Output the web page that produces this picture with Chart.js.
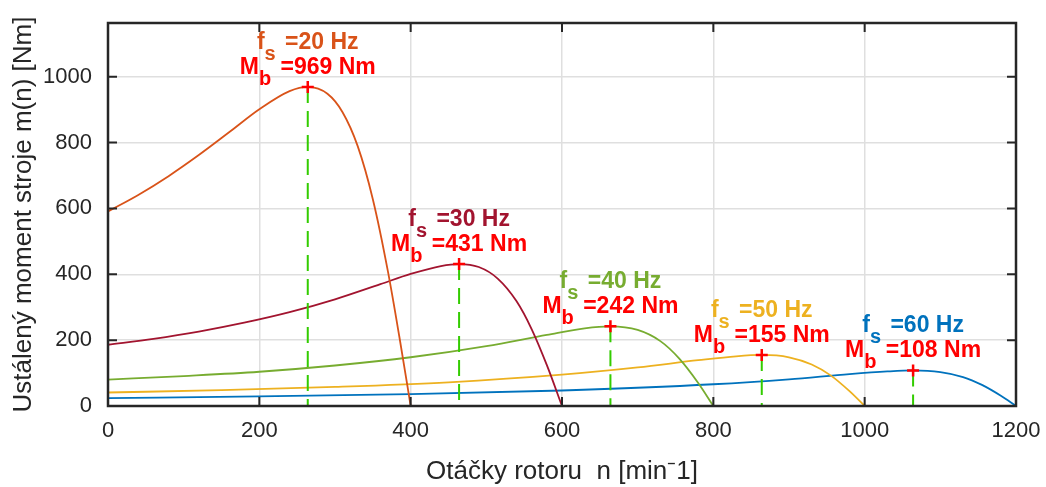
<!DOCTYPE html>
<html lang="cs">
<head>
  <meta charset="UTF-8">
  <title>Ustálený moment stroje</title>
  <script src="https://cdn.jsdelivr.net/npm/chart.js"></script>
  <style>
    body { margin: 0; background: #fff; }
    .chart-container { width: 1046px; height: 487px; }
  </style>
</head>
<body>

  <div class="chart-container">
    <canvas id="torqueChart"></canvas>
  </div>

  <script>
    // otáčky n [min^-1] a moment m(n) [Nm] pro každou frekvenci
    const n20 = [0, 40, 80, 120, 160, 200, 240, 264, 290, 310, 330, 350, 370, 385, 400];
    const m20 = [591, 641, 698, 762, 831, 901, 956, 969, 948, 892, 789, 628, 408, 211, 0];

    const n30 = [0, 60, 120, 180, 240, 300, 360, 400, 440, 464, 490, 515, 540, 560, 580, 600];
    const m30 = [186, 204, 226, 253, 285, 324, 370, 401, 425, 431, 422, 387, 318, 233, 124, 0];

    const n40 = [0, 100, 200, 300, 400, 500, 580, 630, 664, 700, 730, 755, 780, 800];
    const m40 = [80, 91, 104, 123, 148, 182, 216, 236, 242, 231, 197, 144, 70, 0];

    const n50 = [0, 150, 300, 450, 600, 700, 780, 830, 864, 900, 930, 955, 980, 1000];
    const m50 = [41, 48, 58, 72, 95, 117, 139, 151, 155, 148, 126, 93, 45, 0];

    const n60 = [0, 200, 400, 600, 800, 900, 980, 1030, 1064, 1100, 1130, 1155, 1180, 1200];
    const m60 = [24, 29, 36, 47, 66, 81, 97, 105, 108, 103, 88, 64, 31, 0];

    // maxima (moment zvratu)
    const freqs = [20, 30, 40, 50, 60];
    const peakN = [264, 464, 664, 864, 1064];
    const peakM = [969, 431, 242, 155, 108];

    const xTicks = [0, 200, 400, 600, 800, 1000, 1200];
    const yTicks = [0, 200, 400, 600, 800, 1000];

    const curveColors = ['#D95319', '#A2142F', '#77AC30', '#EDB120', '#0072BD'];
    const FONT = "'Liberation Sans', Arial, Helvetica, sans-serif";
    const AXIS = '#262626';

    const curves = [[n20, m20], [n30, m30], [n40, m40], [n50, m50], [n60, m60]];

    const datasets = [];

    datasets.push({
      data: peakN.map((n, i) => ({ x: n, y: peakM[i] })),
      showLine: false,
      pointStyle: 'cross',
      pointRadius: 6,
      borderColor: '#ff0000',
      borderWidth: 2.5,
      order: 0
    });

    peakN.forEach((n, i) => {
      datasets.push({
        data: [{ x: n, y: peakM[i] }, { x: n, y: 0 }],
        borderColor: '#33cc00',
        borderWidth: 2,
        borderDash: [16, 8],
        pointRadius: 0,
        order: 1
      });
    });

    curves.forEach(([ns, ms], i) => {
      datasets.push({
        data: ns.map((n, k) => ({ x: n, y: ms[k] })),
        borderColor: curveColors[i],
        borderWidth: 1.8,
        pointRadius: 0,
        cubicInterpolationMode: 'monotone',
        fill: false,
        order: 2
      });
    });

    // jeden řádek textu s dolním indexem
    function drawRichLine(ctx, parts, cx, baseY, color) {
      const mainFont = 'bold 23px ' + FONT;
      const subFont = 'bold 20px ' + FONT;
      const gap = 3;
      let total = 0;
      parts.forEach(p => {
        ctx.font = p[1] ? subFont : mainFont;
        total += ctx.measureText(p[0]).width + (p[1] ? gap : 0);
      });
      let x = cx - total / 2;
      ctx.fillStyle = color;
      ctx.textAlign = 'left';
      ctx.textBaseline = 'alphabetic';
      parts.forEach(p => {
        ctx.font = p[1] ? subFont : mainFont;
        ctx.fillText(p[0], x, p[1] ? baseY + 11 : baseY);
        x += ctx.measureText(p[0]).width + (p[1] ? gap : 0);
      });
    }

    const matlabAxes = {
      id: 'matlabAxes',
      afterDraw(chart) {
        const { ctx, chartArea: a, scales: { x, y } } = chart;
        ctx.save();

        // rámeček
        ctx.strokeStyle = AXIS;
        ctx.lineWidth = 2.5;
        ctx.strokeRect(a.left, a.top, a.right - a.left, a.bottom - a.top);

        // značky dovnitř
        ctx.lineWidth = 2;
        ctx.beginPath();
        xTicks.forEach(v => {
          const px = x.getPixelForValue(v);
          ctx.moveTo(px, a.bottom); ctx.lineTo(px, a.bottom - 9);
          ctx.moveTo(px, a.top); ctx.lineTo(px, a.top + 9);
        });
        yTicks.forEach(v => {
          const py = y.getPixelForValue(v);
          ctx.moveTo(a.left, py); ctx.lineTo(a.left + 9, py);
          ctx.moveTo(a.right, py); ctx.lineTo(a.right - 9, py);
        });
        ctx.stroke();

        // popisky maxim
        peakN.forEach((n, i) => {
          const cx = x.getPixelForValue(n);
          const base2 = y.getPixelForValue(peakM[i]) - 13;
          drawRichLine(ctx, [['f', false], ['s', true], [' =' + freqs[i] + ' Hz', false]], cx, base2 - 25, curveColors[i]);
          drawRichLine(ctx, [['M', false], ['b', true], [' =' + peakM[i] + ' Nm', false]], cx, base2, '#ff0000');
        });

        ctx.restore();
      }
    };

    new Chart(document.getElementById('torqueChart').getContext('2d'), {
      type: 'line',
      data: { datasets: datasets },
      options: {
        responsive: true,
        maintainAspectRatio: false,
        animation: false,
        layout: { padding: { top: 23, right: 30, left: 0, bottom: 0 } },
        plugins: {
          legend: { display: false },
          tooltip: { enabled: false }
        },
        scales: {
          x: {
            type: 'linear',
            min: 0,
            max: 1200,
            afterBuildTicks: scale => { scale.ticks = xTicks.map(v => ({ value: v })); },
            afterFit: scale => { scale.height = 81; scale.paddingLeft = 0; scale.paddingRight = 0; },
            grid: { color: '#dfdfdf', lineWidth: 1.5, drawTicks: false },
            border: { display: false },
            ticks: {
              maxRotation: 0,
              padding: 12,
              color: AXIS,
              font: { family: FONT, size: 22 },
              callback: v => String(v)
            },
            title: {
              display: true,
              text: 'Otáčky rotoru  n [min⁻1]',
              color: AXIS,
              font: { family: FONT, size: 26 },
              padding: { top: 0, bottom: 0 }
            }
          },
          y: {
            type: 'linear',
            min: 0,
            max: 1163,
            afterBuildTicks: scale => { scale.ticks = yTicks.map(v => ({ value: v })); },
            afterFit: scale => { scale.width = 108; scale.paddingTop = 0; scale.paddingBottom = 0; },
            grid: { color: '#dfdfdf', lineWidth: 1.5, drawTicks: false },
            border: { display: false },
            ticks: {
              padding: 16,
              color: AXIS,
              font: { family: FONT, size: 22 },
              callback: v => String(v)
            },
            title: {
              display: true,
              text: 'Ustálený moment stroje m(n) [Nm]',
              color: AXIS,
              font: { family: FONT, size: 26 },
              padding: { top: 8, bottom: 0 }
            }
          }
        }
      },
      plugins: [matlabAxes]
    });
  </script>

</body>
</html>
